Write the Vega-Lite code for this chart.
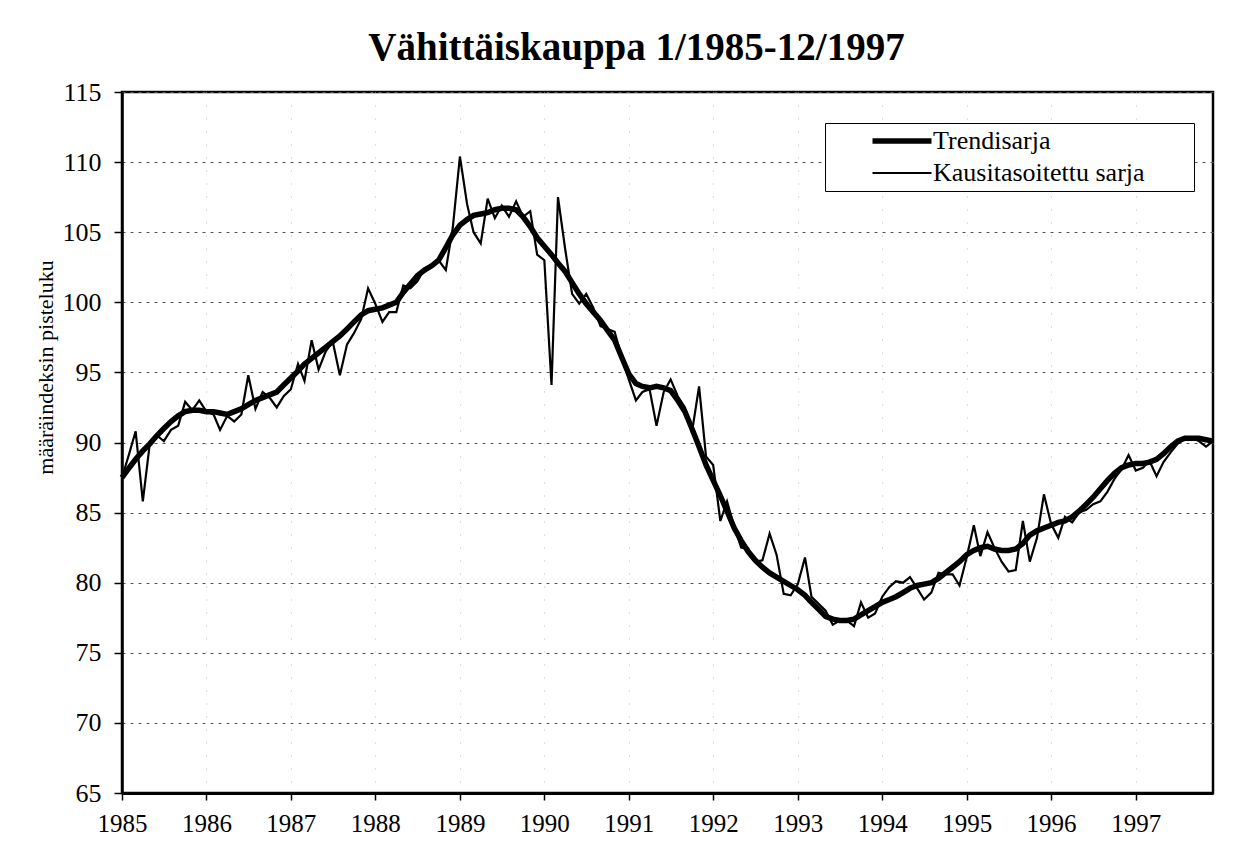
{
  "$schema": "https://vega.github.io/schema/vega-lite/v6.json",
  "width": 1091,
  "height": 701,
  "autosize": {"type": "none"},
  "padding": {"left": 122, "top": 92, "right": 40, "bottom": 69},
  "background": "white",
  "title": {
    "text": "Vähittäiskauppa 1/1985-12/1997",
    "font": "Liberation Serif",
    "fontSize": 39,
    "fontWeight": "bold",
    "color": "black",
    "anchor": "middle",
    "dx": -31,
    "offset": -20,
    "baseline": "alphabetic"
  },
  "data": {
    "values": [
      {"month": "1985-01", "trend": 87.5, "sa": 87.5},
      {"month": "1985-02", "trend": 88.2, "sa": 89.2},
      {"month": "1985-03", "trend": 88.8, "sa": 90.8},
      {"month": "1985-04", "trend": 89.4, "sa": 85.8},
      {"month": "1985-05", "trend": 89.9, "sa": 89.9},
      {"month": "1985-06", "trend": 90.5, "sa": 90.5},
      {"month": "1985-07", "trend": 91.0, "sa": 90.1},
      {"month": "1985-08", "trend": 91.5, "sa": 90.9},
      {"month": "1985-09", "trend": 91.9, "sa": 91.2},
      {"month": "1985-10", "trend": 92.2, "sa": 92.9},
      {"month": "1985-11", "trend": 92.3, "sa": 92.3},
      {"month": "1985-12", "trend": 92.3, "sa": 93.0},
      {"month": "1986-01", "trend": 92.2, "sa": 92.2},
      {"month": "1986-02", "trend": 92.2, "sa": 92.0},
      {"month": "1986-03", "trend": 92.1, "sa": 90.9},
      {"month": "1986-04", "trend": 92.0, "sa": 91.9},
      {"month": "1986-05", "trend": 92.2, "sa": 91.5},
      {"month": "1986-06", "trend": 92.4, "sa": 92.0},
      {"month": "1986-07", "trend": 92.7, "sa": 94.8},
      {"month": "1986-08", "trend": 93.0, "sa": 92.4},
      {"month": "1986-09", "trend": 93.2, "sa": 93.6},
      {"month": "1986-10", "trend": 93.4, "sa": 93.2},
      {"month": "1986-11", "trend": 93.6, "sa": 92.5},
      {"month": "1986-12", "trend": 94.1, "sa": 93.3},
      {"month": "1987-01", "trend": 94.6, "sa": 93.8},
      {"month": "1987-02", "trend": 95.1, "sa": 95.6},
      {"month": "1987-03", "trend": 95.6, "sa": 94.4},
      {"month": "1987-04", "trend": 96.0, "sa": 97.3},
      {"month": "1987-05", "trend": 96.4, "sa": 95.2},
      {"month": "1987-06", "trend": 96.8, "sa": 96.5},
      {"month": "1987-07", "trend": 97.2, "sa": 97.2},
      {"month": "1987-08", "trend": 97.6, "sa": 94.8},
      {"month": "1987-09", "trend": 98.1, "sa": 97.0},
      {"month": "1987-10", "trend": 98.6, "sa": 97.8},
      {"month": "1987-11", "trend": 99.1, "sa": 98.8},
      {"month": "1987-12", "trend": 99.4, "sa": 101.0},
      {"month": "1988-01", "trend": 99.5, "sa": 99.9},
      {"month": "1988-02", "trend": 99.6, "sa": 98.6},
      {"month": "1988-03", "trend": 99.8, "sa": 99.3},
      {"month": "1988-04", "trend": 100.0, "sa": 99.3},
      {"month": "1988-05", "trend": 100.7, "sa": 101.2},
      {"month": "1988-06", "trend": 101.3, "sa": 101.0},
      {"month": "1988-07", "trend": 101.9, "sa": 101.5},
      {"month": "1988-08", "trend": 102.3, "sa": 102.4},
      {"month": "1988-09", "trend": 102.6, "sa": 102.7},
      {"month": "1988-10", "trend": 103.0, "sa": 103.0},
      {"month": "1988-11", "trend": 103.9, "sa": 102.3},
      {"month": "1988-12", "trend": 104.8, "sa": 105.3},
      {"month": "1989-01", "trend": 105.5, "sa": 110.4},
      {"month": "1989-02", "trend": 105.9, "sa": 107.0},
      {"month": "1989-03", "trend": 106.2, "sa": 105.0},
      {"month": "1989-04", "trend": 106.3, "sa": 104.2},
      {"month": "1989-05", "trend": 106.4, "sa": 107.4},
      {"month": "1989-06", "trend": 106.6, "sa": 106.0},
      {"month": "1989-07", "trend": 106.7, "sa": 106.9},
      {"month": "1989-08", "trend": 106.7, "sa": 106.1},
      {"month": "1989-09", "trend": 106.6, "sa": 107.2},
      {"month": "1989-10", "trend": 106.1, "sa": 106.1},
      {"month": "1989-11", "trend": 105.4, "sa": 106.5},
      {"month": "1989-12", "trend": 104.6, "sa": 103.4},
      {"month": "1990-01", "trend": 104.0, "sa": 103.0},
      {"month": "1990-02", "trend": 103.4, "sa": 94.1},
      {"month": "1990-03", "trend": 102.8, "sa": 107.5},
      {"month": "1990-04", "trend": 102.2, "sa": 103.8},
      {"month": "1990-05", "trend": 101.4, "sa": 100.6},
      {"month": "1990-06", "trend": 100.6, "sa": 99.9},
      {"month": "1990-07", "trend": 99.9, "sa": 100.6},
      {"month": "1990-08", "trend": 99.3, "sa": 99.6},
      {"month": "1990-09", "trend": 98.7, "sa": 98.3},
      {"month": "1990-10", "trend": 98.0, "sa": 98.1},
      {"month": "1990-11", "trend": 97.3, "sa": 97.9},
      {"month": "1990-12", "trend": 96.1, "sa": 96.1},
      {"month": "1991-01", "trend": 94.9, "sa": 94.5},
      {"month": "1991-02", "trend": 94.2, "sa": 93.0},
      {"month": "1991-03", "trend": 94.0, "sa": 93.6},
      {"month": "1991-04", "trend": 93.9, "sa": 93.8},
      {"month": "1991-05", "trend": 94.0, "sa": 91.2},
      {"month": "1991-06", "trend": 93.9, "sa": 93.6},
      {"month": "1991-07", "trend": 93.7, "sa": 94.5},
      {"month": "1991-08", "trend": 93.0, "sa": 93.3},
      {"month": "1991-09", "trend": 92.2, "sa": 92.5},
      {"month": "1991-10", "trend": 91.0, "sa": 90.7},
      {"month": "1991-11", "trend": 89.7, "sa": 94.0},
      {"month": "1991-12", "trend": 88.4, "sa": 89.0},
      {"month": "1992-01", "trend": 87.3, "sa": 88.4},
      {"month": "1992-02", "trend": 86.2, "sa": 84.4},
      {"month": "1992-03", "trend": 85.1, "sa": 85.8},
      {"month": "1992-04", "trend": 83.9, "sa": 84.0},
      {"month": "1992-05", "trend": 83.0, "sa": 82.5},
      {"month": "1992-06", "trend": 82.2, "sa": 82.4},
      {"month": "1992-07", "trend": 81.6, "sa": 81.5},
      {"month": "1992-08", "trend": 81.1, "sa": 81.6},
      {"month": "1992-09", "trend": 80.7, "sa": 83.5},
      {"month": "1992-10", "trend": 80.4, "sa": 82.0},
      {"month": "1992-11", "trend": 80.1, "sa": 79.2},
      {"month": "1992-12", "trend": 79.8, "sa": 79.1},
      {"month": "1993-01", "trend": 79.5, "sa": 79.9},
      {"month": "1993-02", "trend": 79.1, "sa": 81.8},
      {"month": "1993-03", "trend": 78.6, "sa": 79.0},
      {"month": "1993-04", "trend": 78.1, "sa": 78.5},
      {"month": "1993-05", "trend": 77.6, "sa": 78.0},
      {"month": "1993-06", "trend": 77.4, "sa": 77.0},
      {"month": "1993-07", "trend": 77.3, "sa": 77.3},
      {"month": "1993-08", "trend": 77.3, "sa": 77.3},
      {"month": "1993-09", "trend": 77.4, "sa": 76.9},
      {"month": "1993-10", "trend": 77.7, "sa": 78.6},
      {"month": "1993-11", "trend": 78.0, "sa": 77.5},
      {"month": "1993-12", "trend": 78.3, "sa": 77.8},
      {"month": "1994-01", "trend": 78.6, "sa": 79.0},
      {"month": "1994-02", "trend": 78.8, "sa": 79.7},
      {"month": "1994-03", "trend": 79.0, "sa": 80.1},
      {"month": "1994-04", "trend": 79.3, "sa": 80.0},
      {"month": "1994-05", "trend": 79.6, "sa": 80.4},
      {"month": "1994-06", "trend": 79.8, "sa": 79.6},
      {"month": "1994-07", "trend": 79.9, "sa": 78.8},
      {"month": "1994-08", "trend": 80.0, "sa": 79.3},
      {"month": "1994-09", "trend": 80.3, "sa": 80.7},
      {"month": "1994-10", "trend": 80.7, "sa": 80.6},
      {"month": "1994-11", "trend": 81.1, "sa": 80.6},
      {"month": "1994-12", "trend": 81.5, "sa": 79.8},
      {"month": "1995-01", "trend": 82.0, "sa": 81.8},
      {"month": "1995-02", "trend": 82.3, "sa": 84.1},
      {"month": "1995-03", "trend": 82.5, "sa": 81.9},
      {"month": "1995-04", "trend": 82.6, "sa": 83.6},
      {"month": "1995-05", "trend": 82.4, "sa": 82.5},
      {"month": "1995-06", "trend": 82.3, "sa": 81.5},
      {"month": "1995-07", "trend": 82.3, "sa": 80.8},
      {"month": "1995-08", "trend": 82.4, "sa": 80.9},
      {"month": "1995-09", "trend": 82.8, "sa": 84.4},
      {"month": "1995-10", "trend": 83.4, "sa": 81.5},
      {"month": "1995-11", "trend": 83.7, "sa": 83.2},
      {"month": "1995-12", "trend": 83.9, "sa": 86.3},
      {"month": "1996-01", "trend": 84.1, "sa": 84.2},
      {"month": "1996-02", "trend": 84.3, "sa": 83.2},
      {"month": "1996-03", "trend": 84.4, "sa": 84.7},
      {"month": "1996-04", "trend": 84.7, "sa": 84.3},
      {"month": "1996-05", "trend": 85.1, "sa": 85.0},
      {"month": "1996-06", "trend": 85.6, "sa": 85.2},
      {"month": "1996-07", "trend": 86.1, "sa": 85.6},
      {"month": "1996-08", "trend": 86.7, "sa": 85.8},
      {"month": "1996-09", "trend": 87.3, "sa": 86.5},
      {"month": "1996-10", "trend": 87.8, "sa": 87.4},
      {"month": "1996-11", "trend": 88.2, "sa": 88.1},
      {"month": "1996-12", "trend": 88.4, "sa": 89.1},
      {"month": "1997-01", "trend": 88.5, "sa": 88.0},
      {"month": "1997-02", "trend": 88.5, "sa": 88.2},
      {"month": "1997-03", "trend": 88.6, "sa": 88.7},
      {"month": "1997-04", "trend": 88.8, "sa": 87.6},
      {"month": "1997-05", "trend": 89.2, "sa": 88.6},
      {"month": "1997-06", "trend": 89.7, "sa": 89.3},
      {"month": "1997-07", "trend": 90.1, "sa": 89.9},
      {"month": "1997-08", "trend": 90.3, "sa": 90.3},
      {"month": "1997-09", "trend": 90.3, "sa": 90.3},
      {"month": "1997-10", "trend": 90.3, "sa": 90.1},
      {"month": "1997-11", "trend": 90.2, "sa": 89.7},
      {"month": "1997-12", "trend": 90.1, "sa": 90.1}
    ]
  },
  "transform": [{"fold": ["trend", "sa"], "as": ["series", "value"]}],
  "mark": {"type": "line", "color": "black"},
  "encoding": {
    "x": {
      "field": "month",
      "type": "temporal",
      "scale": {
        "type": "utc",
        "domain": [
          {"year": 1985, "month": 1, "date": 1, "utc": true},
          {"year": 1997, "month": 12, "date": 1, "utc": true}
        ],
        "nice": false
      },
      "axis": {
        "title": null,
        "format": "%Y",
        "formatType": "utc",
        "tickCount": {"interval": "year", "step": 1},
        "labelFlush": false,
        "labelOverlap": false,
        "domainColor": "black",
        "domainWidth": 3,
        "tickColor": "black",
        "tickWidth": 1.5,
        "tickSize": 7,
        "labelFont": "Liberation Serif",
        "labelFontSize": 25,
        "labelColor": "black",
        "labelPadding": 11,
        "grid": true,
        "gridColor": "#bbbbbb",
        "gridDash": [1, 12],
        "gridWidth": 1
      }
    },
    "y": {
      "field": "value",
      "type": "quantitative",
      "scale": {"domain": [65, 115], "nice": false, "zero": false},
      "axis": {
        "title": "määräindeksin pisteluku",
        "values": [65, 70, 75, 80, 85, 90, 95, 100, 105, 110, 115],
        "labelFlush": false,
        "labelOverlap": false,
        "domainColor": "black",
        "domainWidth": 2.5,
        "tickColor": "black",
        "tickWidth": 1.5,
        "tickSize": 8,
        "labelFont": "Liberation Serif",
        "labelFontSize": 26,
        "labelColor": "black",
        "labelPadding": 13,
        "grid": true,
        "gridColor": "#555555",
        "gridDash": [3, 5],
        "gridWidth": 1,
        "titleFont": "Liberation Serif",
        "titleFontSize": 22,
        "titleFontWeight": "normal",
        "titleColor": "black",
        "titleX": -77,
        "titleY": 275,
        "titleBaseline": "middle"
      }
    },
    "strokeWidth": {
      "field": "series",
      "type": "nominal",
      "scale": {"domain": ["trend", "sa"], "range": [5.5, 2.2]},
      "legend": {
        "orient": "none",
        "legendX": 703,
        "legendY": 31,
        "title": "\u00a0",
        "titleOrient": "right",
        "titleFontSize": 1,
        "titlePadding": 44,
        "labelExpr": "datum.value == 'trend' ? 'Trendisarja' : 'Kausitasoitettu sarja'",
        "labelFont": "Liberation Serif",
        "labelFontSize": 26,
        "labelColor": "black",
        "labelLimit": 400,
        "labelOffset": 18,
        "symbolType": "M-3,0H3",
        "symbolSize": 387,
        "symbolStrokeColor": "black",
        "strokeColor": "black",
        "fillColor": "white",
        "padding": 5,
        "symbolOffset": 59,
        "rowPadding": 6
      }
    }
  },
  "config": {
    "view": {"stroke": "black", "strokeWidth": 2.5},
    "font": "Liberation Serif"
  }
}
